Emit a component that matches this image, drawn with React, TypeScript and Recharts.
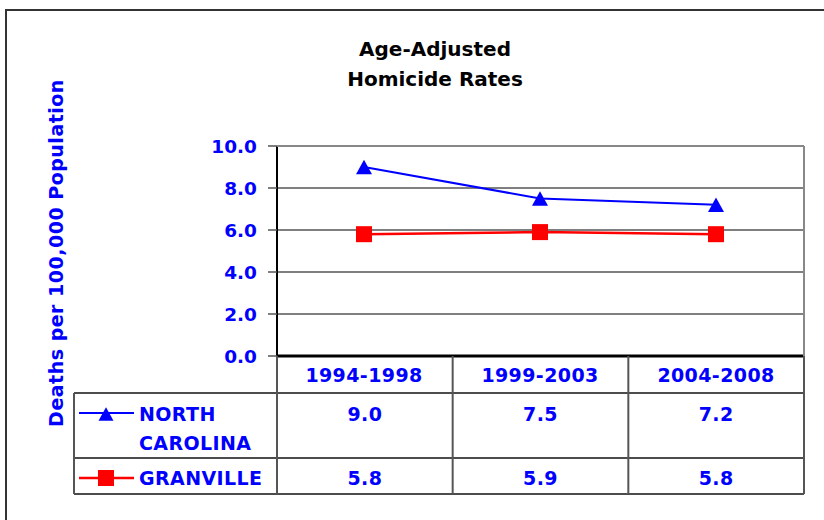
import React from 'react'
import { LineChart, Line, XAxis, YAxis, CartesianGrid } from 'recharts'

// values
const periods = ['1994-1998', '1999-2003', '2004-2008']
const northCarolina = [9.0, 7.5, 7.2]
const granville = [5.8, 5.9, 5.8]
const yTicks = [0, 2, 4, 6, 8, 10]

const data = periods.map((period, i) => ({
  period,
  nc: northCarolina[i],
  gv: granville[i]
}))

const W = 824
const H = 520
const PLOT = { left: 277, right: 804, top: 146, bottom: 356 }
const TABLE = { keyLeft: 74, header: 393, row1: 458, row2: 494 }
const BLUE = '#0000FF'
const RED = '#FF0000'
const FONT = '"DejaVu Sans", Verdana, sans-serif'

const colEdge = (i: number) =>
  PLOT.left + ((PLOT.right - PLOT.left) * i) / periods.length
const colMid = (i: number) => (colEdge(i) + colEdge(i + 1)) / 2

const Triangle = ({ cx, cy, size = 16 }: { cx: number; cy: number; size?: number }) => (
  <path
    d={`M${cx},${cy - size * 0.45} L${cx + size / 2},${cy + size * 0.45} L${cx - size / 2},${cy + size * 0.45} Z`}
    fill={BLUE}
  />
)

const Square = ({ cx, cy, size = 16 }: { cx: number; cy: number; size?: number }) => (
  <rect x={cx - size / 2} y={cy - size / 2} width={size} height={size} fill={RED} />
)

const textStyle = {
  fontFamily: FONT,
  fontWeight: 'bold' as const,
  fontSize: 19,
  fill: BLUE,
  letterSpacing: 0.4
}

const tickStyle = { ...textStyle, fontSize: 18.5, letterSpacing: 0 }

const PeriodTick = (props: any) => {
  const { x, payload } = props
  return (
    <text x={x} y={PLOT.bottom + 26} textAnchor="middle" {...textStyle}>
      {payload.value}
    </text>
  )
}

const Overlay = () => {
  const rowLines = [TABLE.header, TABLE.row1, TABLE.row2]
  const colLines = [0, 1, 2, 3].map(colEdge)
  return (
    <svg
      width={W}
      height={H}
      style={{ position: 'absolute', left: 0, top: 0, pointerEvents: 'none' }}
    >
      {/* outer frame */}
      <rect x={6} y={10} width={W + 50} height={H + 50} fill="none" stroke="#333" strokeWidth={2} />

      {/* title */}
      <text x={435} y={56} textAnchor="middle" fontFamily={FONT} fontWeight="bold" fontSize={20} fill="#000">
        Age-Adjusted
      </text>
      <text x={435} y={86} textAnchor="middle" fontFamily={FONT} fontWeight="bold" fontSize={20} fill="#000">
        Homicide Rates
      </text>

      {/* y axis title */}
      <text transform="translate(63,253) rotate(-90)" textAnchor="middle" {...textStyle} letterSpacing={0.5}>
        Deaths per 100,000 Population
      </text>

      {/* plot frame, top and right */}
      <line x1={PLOT.left} x2={PLOT.right} y1={PLOT.top} y2={PLOT.top} stroke="#888" strokeWidth={2} />
      <line x1={PLOT.right} x2={PLOT.right} y1={PLOT.top} y2={PLOT.bottom} stroke="#888" strokeWidth={2} />

      {/* data table grid */}
      {rowLines.map((y) => (
        <line key={y} x1={TABLE.keyLeft} x2={PLOT.right} y1={y} y2={y} stroke="#111" strokeWidth={1.5} />
      ))}
      <line x1={TABLE.keyLeft} x2={TABLE.keyLeft} y1={TABLE.header} y2={TABLE.row2} stroke="#555" strokeWidth={2} />
      {colLines.map((x) => (
        <line key={x} x1={x} x2={x} y1={PLOT.bottom} y2={TABLE.row2} stroke="#555" strokeWidth={2} />
      ))}

      {/* legend keys */}
      <line x1={79} x2={134} y1={413} y2={413} stroke={BLUE} strokeWidth={2} />
      <Triangle cx={106} cy={414} size={15} />
      <line x1={79} x2={134} y1={478} y2={478} stroke={RED} strokeWidth={2.5} />
      <Square cx={106} cy={478} size={16} />

      <text x={139} y={421} {...textStyle}>NORTH</text>
      <text x={139} y={450} {...textStyle}>CAROLINA</text>
      <text x={139} y={485} {...textStyle}>GRANVILLE</text>

      {northCarolina.map((v, i) => (
        <text key={`nc${i}`} x={colMid(i)} y={421} textAnchor="middle" {...textStyle}>
          {v.toFixed(1)}
        </text>
      ))}
      {granville.map((v, i) => (
        <text key={`gv${i}`} x={colMid(i)} y={485} textAnchor="middle" {...textStyle}>
          {v.toFixed(1)}
        </text>
      ))}
    </svg>
  )
}

export default function App() {
  return (
    <div style={{ position: 'absolute', left: 0, top: 0, width: W, height: H, background: '#fff' }}>
      <LineChart
        width={W}
        height={H}
        data={data}
        margin={{ top: PLOT.top, right: W - PLOT.right, bottom: 0, left: 0 }}
      >
        <CartesianGrid vertical={false} stroke="#000" strokeWidth={1} />
        <XAxis
          dataKey="period"
          height={H - PLOT.bottom}
          padding={{ left: 87, right: 88 }}
          axisLine={{ stroke: '#000', strokeWidth: 3 }}
          tickLine={false}
          tick={<PeriodTick />}
          interval={0}
        />
        <YAxis
          width={PLOT.left}
          domain={[0, 10]}
          ticks={yTicks}
          tickFormatter={(v: number) => v.toFixed(1)}
          axisLine={{ stroke: '#000', strokeWidth: 2 }}
          tickLine={{ stroke: '#555', strokeWidth: 1.5 }}
          tickSize={9}
          tickMargin={11}
          tick={tickStyle}
        />
        <Line
          dataKey="nc"
          stroke={BLUE}
          strokeWidth={2}
          isAnimationActive={false}
          dot={(p: any) => <Triangle key={`t${p.index}`} cx={p.cx} cy={p.cy} />}
        />
        <Line
          dataKey="gv"
          stroke={RED}
          strokeWidth={2.5}
          isAnimationActive={false}
          dot={(p: any) => <Square key={`s${p.index}`} cx={p.cx} cy={p.cy} />}
        />
      </LineChart>
      <Overlay />
    </div>
  )
}
